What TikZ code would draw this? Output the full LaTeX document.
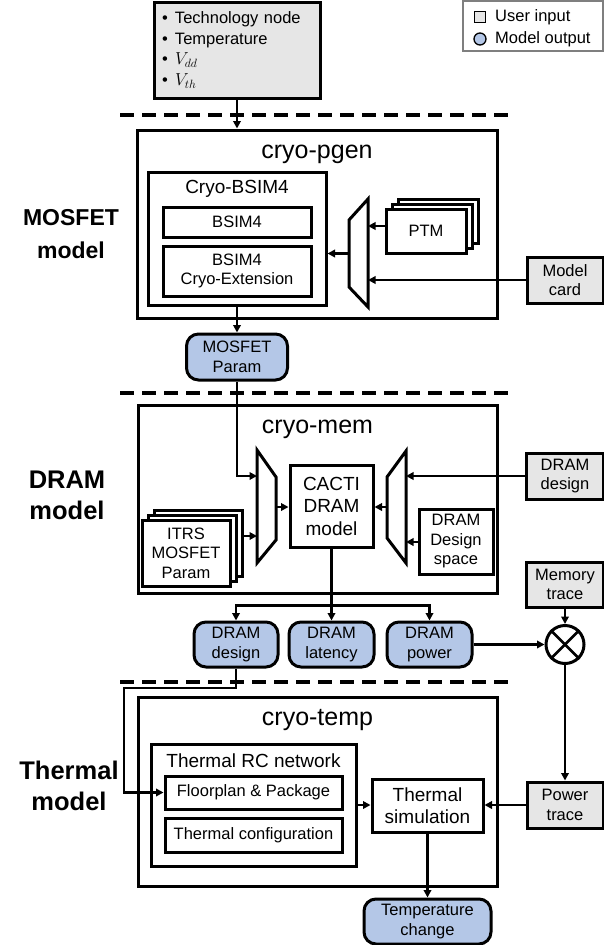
\documentclass[tikz,border=0pt]{standalone}
\usepackage{fontspec}
\setmainfont{Liberation Sans}
\usetikzlibrary{arrows.meta,calc}
\definecolor{ingray}{HTML}{E6E6E6}
\definecolor{outblue}{HTML}{B4C7E7}
\definecolor{leggray}{HTML}{7F7F7F}
\newcommand\fzS{\fontsize{16.5}{19.5}\selectfont}
\newcommand\fzT{\fontsize{16.5}{20.5}\selectfont}
\newcommand\fzM{\fontsize{19}{22.5}\selectfont}
\newcommand\fzL{\fontsize{25}{30}\selectfont}
\newcommand\fzB{\fontsize{25.5}{31}\selectfont\bfseries}
\newcommand\fzBs{\fontsize{23}{33}\selectfont\bfseries}
\begin{document}
\begin{tikzpicture}[x=1pt,y=-1pt,
  box/.style={draw, line width=3pt, fill=white, inner sep=0pt, align=center, font=\fzS},
  inbox/.style={box, fill=ingray},
  outbox/.style={box, fill=outblue, rounded corners=12pt},
  frame/.style={draw, line width=3pt, fill=white, inner sep=0pt},
  ttl/.style={anchor=base, inner sep=0pt},
  arr/.style={line width=2.8pt, -{Triangle[length=7.5pt,width=7.5pt]}},
  sepline/.style={line width=3.2pt, dash pattern=on 14pt off 8pt},
  mux/.style={line width=3pt, fill=white, line join=miter},
  sidelabel/.style={align=center, inner sep=0pt}
]
\useasboundingbox (0,0) rectangle (604,945);

% separators
\coordinate (d1a) at (120,115); \coordinate (d1b) at (510,115);
\coordinate (d2a) at (120,393); \coordinate (d2b) at (510,393);
\coordinate (d3a) at (120,682); \coordinate (d3b) at (510,682);
\draw[sepline] (d1a) -- (d1b);
\draw[sepline] (d2a) -- (d2b);
\draw[sepline] (d3a) -- (d3b);

% top input
\node[inbox, minimum width=166pt, minimum height=96pt, text width=150pt, inner xsep=8pt, align=left, font=\fzT] (params) at (237,50)
  {\makebox[13pt][l]{\textbullet}Technology node\\
   \makebox[13pt][l]{\textbullet}Temperature\\
   \makebox[13pt][l]{\textbullet}$V_{dd}$\\
   \makebox[13pt][l]{\textbullet}$V_{th}$};

% legend
\node[draw=leggray, line width=1.6pt, minimum width=140pt, minimum height=50pt, inner sep=0pt] (legend) at (533,26) {};
\node[draw, line width=1.3pt, fill=ingray, minimum size=11pt, inner sep=0pt] (legsq) at (480,17) {};
\node[circle, draw, line width=1.3pt, fill=outblue, minimum size=12pt, inner sep=0pt] (legci) at (480,39) {};
\node[anchor=west, font=\fzS, inner sep=0pt] (legt1) at (495,17) {User input};
\node[anchor=west, font=\fzS, inner sep=0pt] (legt2) at (495,39) {Model output};

% side labels
\node[sidelabel, font=\fzBs] (lab1) at (71,234) {MOSFET\\model};
\node[sidelabel, font=\fzB] (lab2) at (67,495) {DRAM\\model};
\node[sidelabel, font=\fzB] (lab3) at (69,786) {Thermal\\model};

% ---------------- cryo-pgen
\node[frame, minimum width=360pt, minimum height=188pt] (pgen) at (317,224) {};
\node[ttl, font=\fzL] (pgent) at (317,158) {cryo-pgen};
\node[frame, minimum width=178pt, minimum height=133pt] (cbsim) at (237,238.5) {};
\node[ttl, font=\fzM] (cbsimt) at (237,193) {Cryo-BSIM4};
\node[box, minimum width=148pt, minimum height=30pt] (bsim) at (237,222) {BSIM4};
\node[box, minimum width=148pt, minimum height=50pt] (bext) at (237,271) {BSIM4\\Cryo-Extension};
\draw[mux] (349,220) -- (368,199) -- (368,307) -- (349,287) -- cycle;
\coordinate (m1o) at (349,253.5);
\coordinate (m1a) at (368,226);
\coordinate (m1b) at (368,280);
\node[box, minimum width=80pt, minimum height=44pt] (ptm3) at (438,221) {};
\node[box, minimum width=80pt, minimum height=44pt] (ptm2) at (432,226) {};
\node[box, minimum width=80pt, minimum height=44pt] (ptm) at (426,231) {PTM};
\node[inbox, minimum width=76pt, minimum height=46pt] (mcard) at (565,280) {Model\\card};
\node[outbox, minimum width=101pt, minimum height=46pt] (mparam) at (237,357) {MOSFET\\Param};

% ---------------- cryo-mem
\node[frame, minimum width=359pt, minimum height=188pt] (cmem) at (317.5,499) {};
\node[ttl, font=\fzL] (cmemt) at (317.5,433) {cryo-mem};
\draw[mux] (257,450) -- (276,477) -- (276,540) -- (257,563) -- cycle;
\coordinate (m2a) at (257,476);
\coordinate (m2b) at (257,536);
\coordinate (m2o) at (276,507);
\node[box, font=\fzM, minimum width=83pt, minimum height=82pt] (cacti) at (331.5,506) {CACTI\\DRAM\\model};
\node[box, minimum width=88pt, minimum height=66pt] (itrs3) at (198,543) {};
\node[box, minimum width=88pt, minimum height=66pt] (itrs2) at (192,548) {};
\node[box, minimum width=88pt, minimum height=66pt] (itrs) at (186,553) {ITRS\\MOSFET\\Param};
\draw[mux] (406,451) -- (387,477) -- (387,538) -- (406,563) -- cycle;
\coordinate (m3a) at (406,476);
\coordinate (m3b) at (406,542);
\coordinate (m3o) at (387,507);
\node[inbox, minimum width=77pt, minimum height=46pt] (ddin) at (565,476) {DRAM\\design};
\node[box, minimum width=74pt, minimum height=65pt] (dspace) at (456,541.5) {DRAM\\Design\\space};
\node[inbox, minimum width=77pt, minimum height=45pt] (mtrace) at (565,584.5) {Memory\\trace};
\node[circle, draw, line width=3pt, fill=white, minimum size=38pt, inner sep=0pt] (mult) at (565,644.5) {};
\draw[line width=2.8pt] (mult.north west) -- (mult.south east);
\draw[line width=2.8pt] (mult.north east) -- (mult.south west);
\node[outbox, minimum width=84pt, minimum height=45pt] (ddes) at (236,644.5) {DRAM\\design};
\node[outbox, minimum width=85pt, minimum height=45pt] (dlat) at (331.5,644.5) {DRAM\\latency};
\node[outbox, minimum width=85pt, minimum height=45pt] (dpow) at (429.5,644.5) {DRAM\\power};

% ---------------- cryo-temp
\node[frame, minimum width=359pt, minimum height=189pt] (ctemp) at (317.5,791.5) {};
\node[ttl, font=\fzL] (ctempt) at (317.5,725) {cryo-temp};
\node[frame, minimum width=205pt, minimum height=122pt] (trc) at (253.5,805) {};
\node[ttl, font=\fzM] (trct) at (253.5,767) {Thermal RC network};
\node[box, minimum width=177pt, minimum height=33pt] (floor) at (253.5,792.5) {Floorplan \& Package};
\node[box, minimum width=177pt, minimum height=34pt] (tconf) at (253.5,835) {Thermal configuration};
\node[box, font=\fzM, minimum width=111pt, minimum height=53pt] (tsim) at (427.5,805.5) {Thermal\\simulation};
\node[inbox, minimum width=76pt, minimum height=46pt] (ptrace) at (565,805) {Power\\trace};
\node[outbox, minimum width=127pt, minimum height=45pt] (tchange) at (427.5,921.5) {Temperature\\change};

% ---------------- connectors
\draw[arr] (params.south) -- (params.south |- pgen.north);
\draw[arr] (m1o) -- (cbsim.east |- m1o);
\draw[arr] (ptm.west |- m1a) -- (m1a);
\draw[arr] (mcard.west |- m1b) -- (m1b);
\draw[arr] (cbsim.south) -- (mparam.north);
\draw[arr] (mparam.south) |- (m2a);
\draw[arr] (itrs3.east |- m2b) -- (m2b);
\draw[arr] (m2o) -- (cacti.west |- m2o);
\draw[arr] (ddin.west |- m3a) -- (m3a);
\draw[arr] (dspace.west |- m3b) -- (m3b);
\draw[arr] (m3o) -- (cacti.east |- m3o);
\coordinate (split) at ($(cacti.south)+(0,57)$);
\draw[arr] (cacti.south) -- (dlat.north);
\draw[arr] (split) -| (ddes.north);
\draw[arr] (split) -| (dpow.north);
\draw[arr] (dpow.east) -- (mult.west);
\draw[arr] (mtrace.south) -- (mult.north);
\draw[arr] (mult.south) -- (ptrace.north);
\coordinate (bend) at (124,688);
\draw[arr] (ddes.south) |- (bend) |- (floor.west);
\draw[arr] (trc.east) -- (tsim.west |- trc.east);
\draw[arr] (ptrace.west) -- (tsim.east |- ptrace.west);
\draw[arr] (tsim.south) -- (tchange.north);
\end{tikzpicture}
\end{document}
